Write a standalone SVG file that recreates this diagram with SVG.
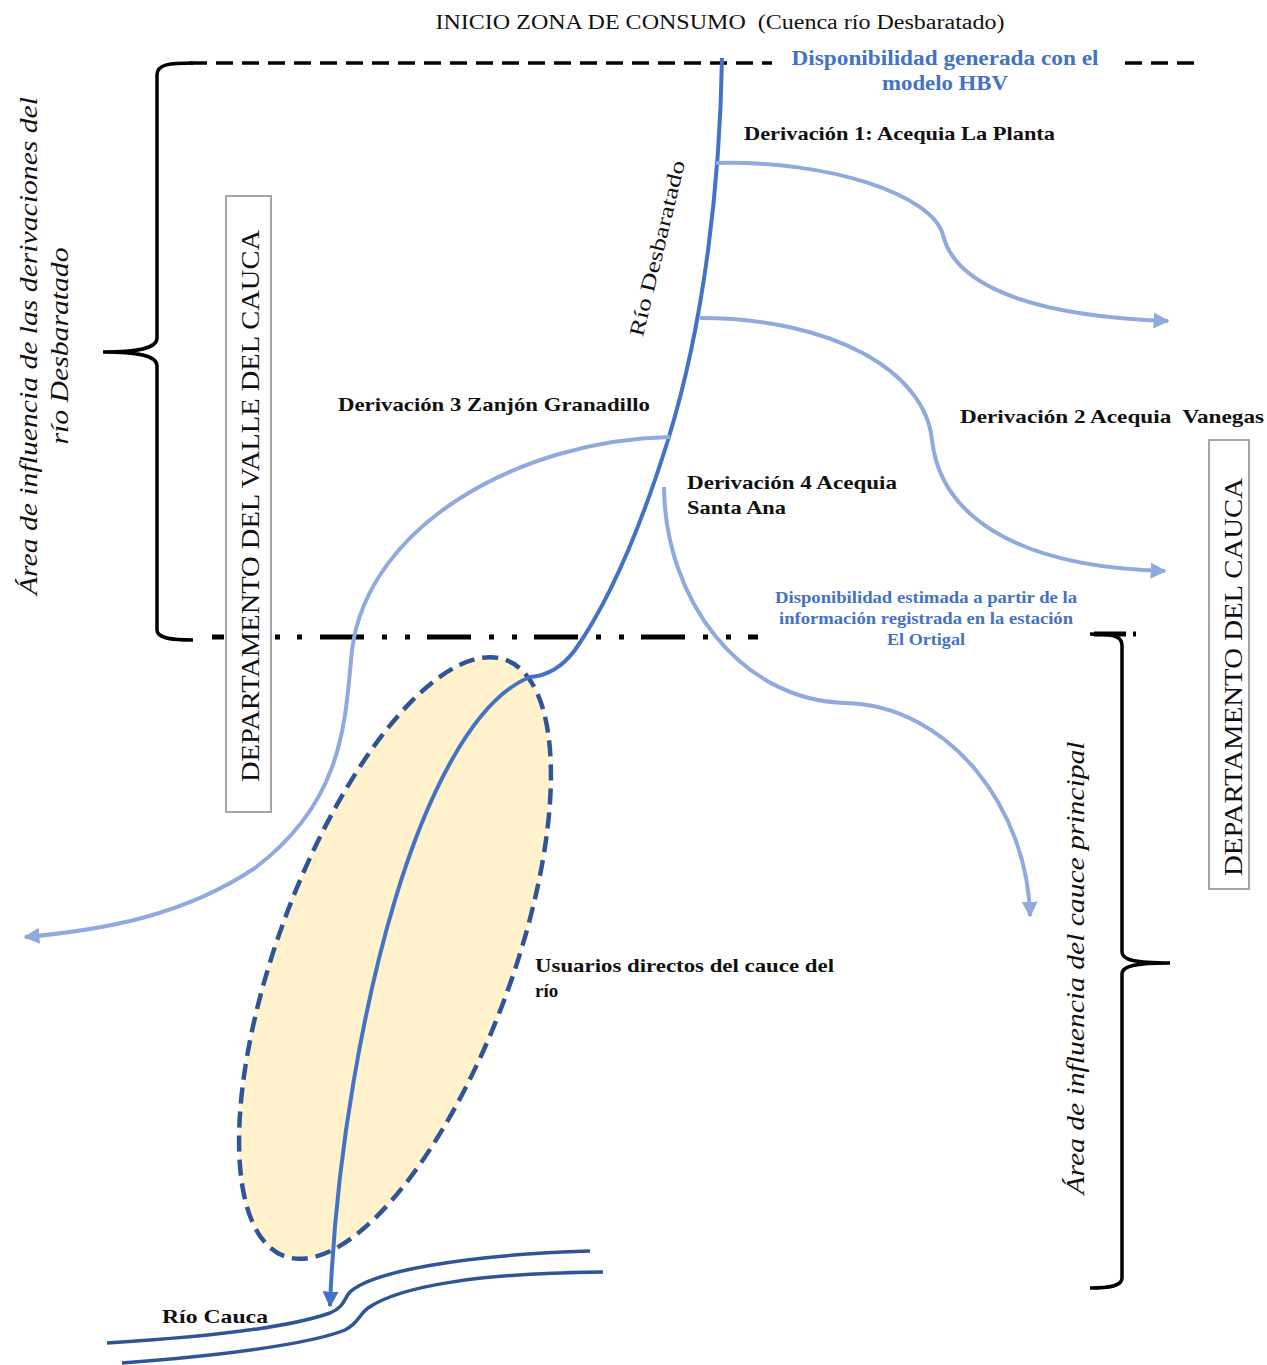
<svg xmlns="http://www.w3.org/2000/svg" width="1267" height="1365" viewBox="0 0 1267 1365">
<defs>
<style>
.lbl{font-family:"Liberation Serif","Times New Roman",serif;font-weight:bold;font-size:19px;fill:#111}
.blue{font-family:"Liberation Serif","Times New Roman",serif;font-weight:bold;fill:#4472C4}
.ital{font-family:"Liberation Serif","Times New Roman",serif;font-style:italic;font-size:26px;fill:#111}
.reg{font-family:"Liberation Serif","Times New Roman",serif;fill:#111}
.br{fill:none;stroke:#000;stroke-width:3.5}
.river{fill:none;stroke:#4472C4;stroke-width:4}
.der{fill:none;stroke:#8FAADC;stroke-width:4}
.cauca{fill:none;stroke:#2F5597;stroke-width:3.5}
.box{fill:#fff;stroke:#A6A6A6;stroke-width:2}
.dd{stroke:#000;stroke-width:5}
</style>
<marker id="ah" viewBox="0 0 10 10" refX="9" refY="5" markerWidth="4" markerHeight="4" orient="auto" markerUnits="strokeWidth">
<path d="M0,0 L10,5 L0,10 Z" fill="#8FAADC"/>
</marker>
<marker id="ahd" viewBox="0 0 10 10" refX="9" refY="5" markerWidth="4" markerHeight="4" orient="auto" markerUnits="strokeWidth">
<path d="M0,0 L10,5 L0,10 Z" fill="#4472C4"/>
</marker>
</defs>
<rect width="1267" height="1365" fill="#fff"/>

<g id="title">
<text class="reg" x="720" y="29" font-size="20" text-anchor="middle" textLength="569" lengthAdjust="spacingAndGlyphs" xml:space="preserve">INICIO ZONA DE CONSUMO  (Cuenca río Desbaratado)</text>
</g>

<g id="limits">
<line x1="190" y1="63" x2="772" y2="63" stroke="#000" stroke-width="3.5" stroke-dasharray="17 9"/>
<line x1="1125" y1="63" x2="1195" y2="63" stroke="#000" stroke-width="3.5" stroke-dasharray="17 9"/>
<line class="dd" x1="212" y1="637" x2="758" y2="637" stroke-dasharray="12 51 5 17 5 18 44 18 5 18 5 17 44 18 5 18 5 17 44 18 5 18 5 17 44 18 5 18 5 17 44 18 5 18 5 17 44 18 5 18 5 17"/>
<line class="dd" x1="1094" y1="634" x2="1136" y2="634" stroke-dasharray="32 7 5 40"/>
</g>

<g id="brace-left">
<path class="br" d="M193,63 C170,63 157,64 157,75 L157,338 C157,348 140,352 103,352 C140,352 157,356 157,366 L157,630 C157,638 170,640 193,640"/>
</g>
<g id="brace-right">
<path class="br" d="M1090,634 C1110,634 1122,635 1122,645 L1122,952 C1122,960 1135,963 1170,963 C1135,963 1122,966 1122,974 L1122,1278 C1122,1286 1110,1288 1090,1288"/>
</g>

<g id="label-left-area">
<text class="ital" transform="translate(37,346) rotate(-90)" text-anchor="middle" textLength="498" lengthAdjust="spacingAndGlyphs">Área de influencia de las derivaciones del</text>
<text class="ital" transform="translate(68,346) rotate(-90)" text-anchor="middle" textLength="197" lengthAdjust="spacingAndGlyphs">río Desbaratado</text>
</g>
<g id="label-right-area">
<text class="ital" transform="translate(1084,968) rotate(-90)" text-anchor="middle" textLength="453" lengthAdjust="spacingAndGlyphs">Área de influencia del cauce principal</text>
</g>

<g id="box-valle">
<rect class="box" x="226" y="196" width="45" height="616"/>
<text class="reg" font-size="26" transform="translate(259,506) rotate(-90)" text-anchor="middle" textLength="552" lengthAdjust="spacingAndGlyphs">DEPARTAMENTO DEL VALLE DEL CAUCA</text>
</g>
<g id="box-cauca">
<rect class="box" x="1209" y="440" width="40" height="449"/>
<text class="reg" font-size="26" transform="translate(1242,677) rotate(-90)" text-anchor="middle" textLength="398" lengthAdjust="spacingAndGlyphs">DEPARTAMENTO DEL CAUCA</text>
</g>

<g id="users">
<ellipse cx="395" cy="958" rx="117" ry="318" transform="rotate(20.4 395 958)" fill="#FFF2CC" stroke="#2F5597" stroke-width="4.5" stroke-dasharray="16 8"/>
</g>

<g id="connectors">
<path class="river" d="M722,58 C720,180 705,320 668,440 C640,530 610,600 575,650 C560,670 545,676 530,677"/>
<path class="river" d="M530,677 C472,700 425,800 395,900 C365,1000 336,1150 330,1306" marker-end="url(#ahd)"/>
<path class="der" d="M716,163 C830,160 932,195 943,235 C952,272 1000,315 1168,321" marker-end="url(#ah)"/>
<path class="der" d="M700,318 C830,318 925,370 932,440 C940,512 1010,567 1165,571" marker-end="url(#ah)"/>
<path class="der" d="M670,437 C520,440 368,525 352,650 C345,720 345,800 255,868 C185,915 105,930 25,937" marker-end="url(#ah)"/>
<path class="der" d="M664,487 C665,600 740,700 845,703 C950,705 1028,810 1030,916" marker-end="url(#ah)"/>
<path class="cauca" d="M107,1343 C190,1338 285,1329 330,1313 C345,1307 344,1298 350,1292 C372,1272 460,1255 590,1251"/>
<path class="cauca" d="M122,1363 C220,1356 310,1344 345,1330 C360,1322 358,1315 368,1308 C400,1286 480,1273 603,1272"/>
</g>

<g id="labels">
<text class="reg" font-size="21" transform="translate(664,250) rotate(-76.4)" text-anchor="middle" textLength="180" lengthAdjust="spacingAndGlyphs">Río Desbaratado</text>
<text class="lbl" x="744" y="140" textLength="311" lengthAdjust="spacingAndGlyphs">Derivación 1: Acequia La Planta</text>
<text class="lbl" x="960" y="423" textLength="304" lengthAdjust="spacingAndGlyphs" xml:space="preserve">Derivación 2 Acequia  Vanegas</text>
<text class="lbl" x="338" y="411" textLength="312" lengthAdjust="spacingAndGlyphs">Derivación 3 Zanjón Granadillo</text>
<text class="lbl" x="687" y="489" textLength="210" lengthAdjust="spacingAndGlyphs">Derivación 4 Acequia</text>
<text class="lbl" x="687" y="514" textLength="99" lengthAdjust="spacingAndGlyphs">Santa Ana</text>
<text class="lbl" x="535" y="972" textLength="299" lengthAdjust="spacingAndGlyphs">Usuarios directos del cauce del</text>
<text class="lbl" x="535" y="997">río</text>
<text class="lbl" x="162" y="1323" textLength="106" lengthAdjust="spacingAndGlyphs">Río Cauca</text>
<text class="blue" font-size="20" x="945" y="65" text-anchor="middle" textLength="307" lengthAdjust="spacingAndGlyphs">Disponibilidad generada con el</text>
<text class="blue" font-size="20" x="945" y="90" text-anchor="middle" textLength="126" lengthAdjust="spacingAndGlyphs">modelo HBV</text>
<text class="blue" font-size="16" x="926" y="603" text-anchor="middle" textLength="302" lengthAdjust="spacingAndGlyphs">Disponibilidad estimada a partir de la</text>
<text class="blue" font-size="16" x="926" y="624" text-anchor="middle" textLength="294" lengthAdjust="spacingAndGlyphs">información registrada en la estación</text>
<text class="blue" font-size="16" x="926" y="645" text-anchor="middle" textLength="78" lengthAdjust="spacingAndGlyphs">El Ortigal</text>
</g>
</svg>
